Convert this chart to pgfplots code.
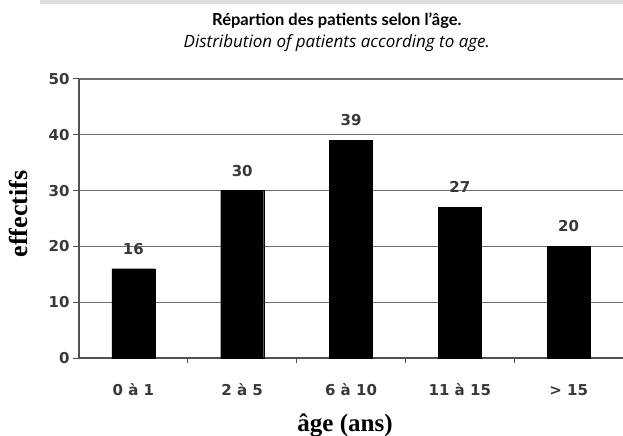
\documentclass[border=0pt]{standalone}
\usepackage{pgfplots}
\pgfplotsset{compat=1.18}
\usepackage{fontspec}
\setmainfont{DejaVu Sans}
\newfontfamily\labfont{Liberation Serif}
\newfontfamily\titlefont{Lato}
\newfontfamily\subtitlefont{Open Sans}
\definecolor{gridgray}{RGB}{110,110,110}
\definecolor{axisgray}{RGB}{80,80,80}
\definecolor{bandgray}{RGB}{222,222,222}
\begin{document}
\begin{tikzpicture}
\useasboundingbox (0,0) rectangle (623bp,436bp);
\fill[bandgray] (40bp,432bp) rectangle (623bp,436bp);
\begin{axis}[
    at={(79bp,78bp)}, anchor=south west,
    scale only axis,
    width=544bp, height=279bp,
    ybar, bar width=43bp,
    xmin=-0.5, xmax=4.5,
    ymin=0, ymax=50,
    ytick={0,10,20,30,40,50},
    xtick={0,1,2,3,4},
    xticklabels={0 à 1, 2 à 5, 6 à 10, 11 à 15, > 15},
    major x tick style={draw=none},
    minor xtick={0.5,1.5,2.5,3.5},
    minor tick length=5bp,
    minor x tick style={axisgray, line width=1pt},
    major tick length=6bp,
    tick align=outside,
    axis x line*=bottom, axis y line*=left,
    axis line style={axisgray, line width=1.4pt},
    y tick style={axisgray, line width=1pt},
    ymajorgrids,
    grid style={gridgray, line width=1.4pt},
    /pgf/number format/assume math mode=true,
    tick label style={font=\bfseries\fontsize{15bp}{18bp}\selectfont, text=black!78},
    xticklabel style={anchor=base, yshift=-31bp},
    yticklabel style={anchor=east},
    xlabel={âge (ans)},
    ylabel={effectifs},
    xlabel style={font=\labfont\bfseries\fontsize{25bp}{28bp}\selectfont, at={(axis description cs:0.489,-0.262)}, anchor=base},
    ylabel style={font=\labfont\bfseries\fontsize{26bp}{28bp}\selectfont, at={(axis description cs:-0.112,0.516)}, anchor=center, rotate=0},
    nodes near coords,
    nodes near coords style={font=\bfseries\fontsize{15bp}{18bp}\selectfont, text=black!78, anchor=center, yshift=20bp},
    clip=false,
]
\addplot[fill=black, draw=black] coordinates {(0,16) (1,30) (2,39) (3,27) (4,20)};
\node[font=\titlefont\bfseries\fontsize{16.5bp}{18bp}\selectfont, anchor=base] at (rel axis cs:0.474,1) [yshift=53bp] {Répartion des patients selon l’âge.};
\node[font=\subtitlefont\itshape\fontsize{17bp}{18bp}\selectfont, anchor=base] at (rel axis cs:0.474,1) [yshift=31bp] {Distribution of patients according to age.};
\end{axis}
\end{tikzpicture}
\end{document}
